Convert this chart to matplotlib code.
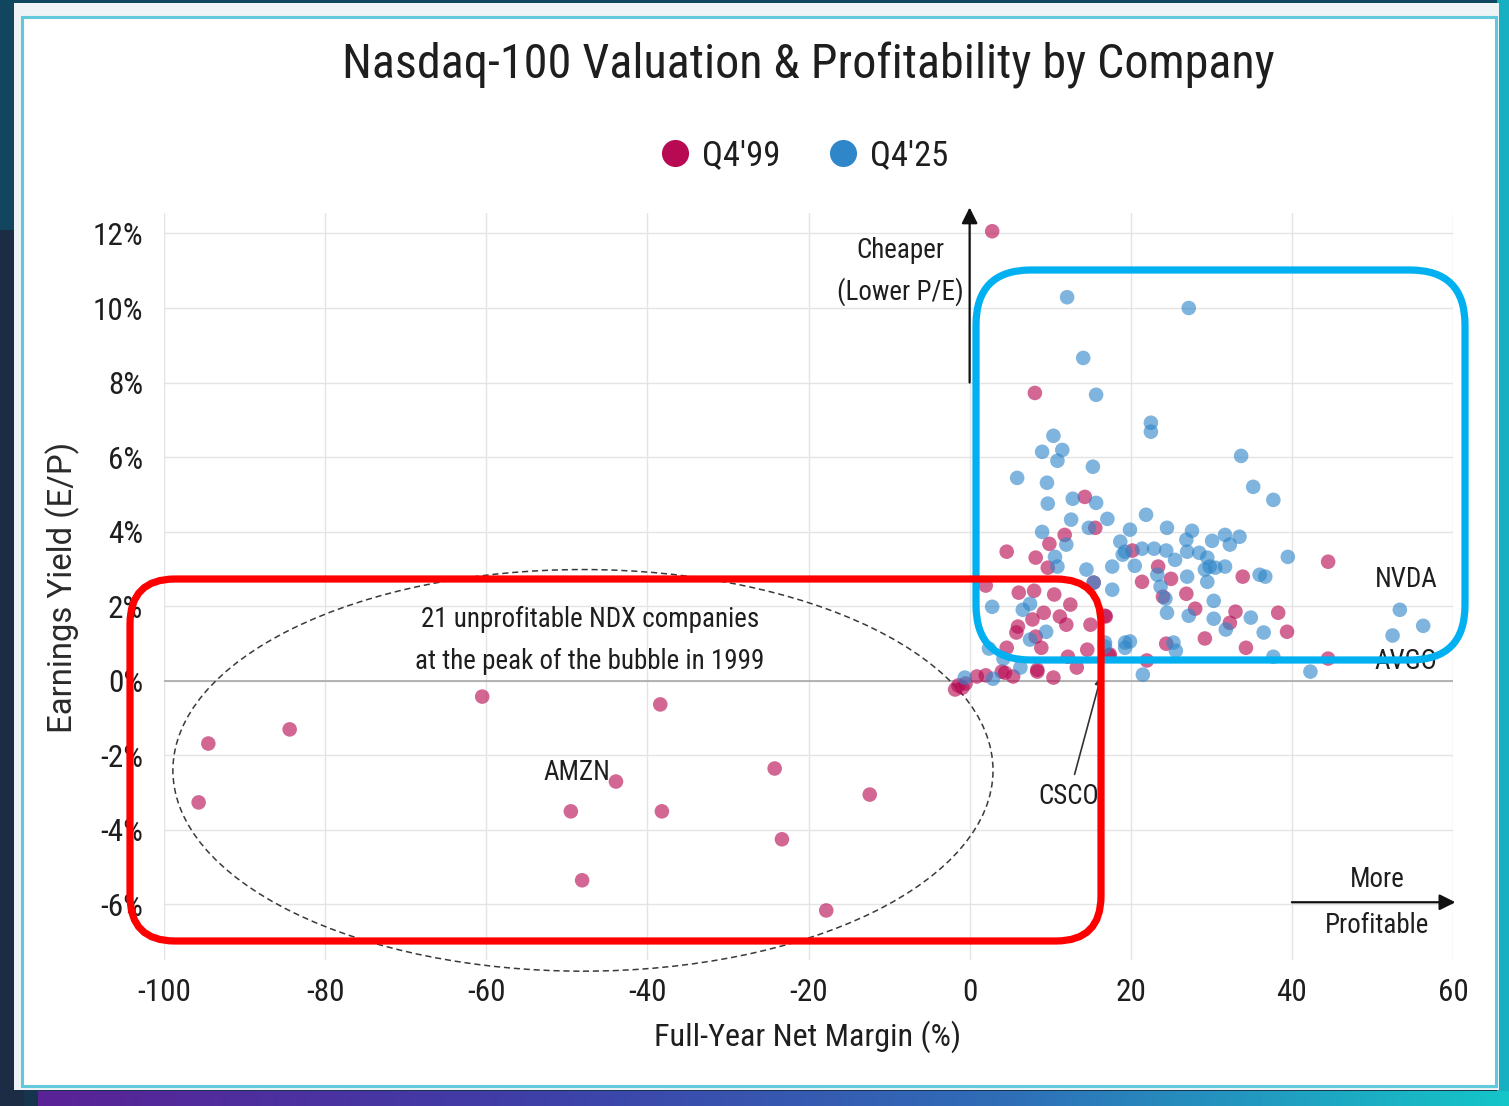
import matplotlib
matplotlib.use('Agg')
import matplotlib.pyplot as plt
from matplotlib import font_manager as fm
from matplotlib.patches import Rectangle, FancyBboxPatch, Ellipse
from matplotlib.lines import Line2D
from matplotlib.colors import LinearSegmentedColormap
import numpy as np

# ---------------- data ----------------
series_names = ["Q4'99", "Q4'25"]

q99_margin = [-95.7, -94.5, -84.4, -60.5, -38.4, -43.9, -49.5, -38.2, -48.1, -24.2,
              -23.3, -12.4, -17.8, -1.8, -0.9, -1.4, -0.5,
              0.9, 4.4, 5.4, 8.4, 10.4, 4.0, 2.0,
              2.8, 8.1, 14.3, 15.6, 11.8, 9.9, 4.6, 8.2, 9.7, 20.2,
              2.0, 6.1, 8.0, 10.5, 12.5, 6.0, 5.8, 7.8, 9.2, 11.2, 12.0, 15.0, 16.9,
              8.2, 8.9, 4.6, 14.6, 12.2, 13.3, 8.4, 17.4,
              23.4, 21.4, 25.0, 26.9, 24.0, 28.0, 33.0, 32.3, 33.9, 38.3, 39.4, 29.2,
              34.3, 24.4, 22.0, 16.8, 17.3, 44.5, 44.5, 15.4]
q99_yield = [-3.27, -1.69, -1.31, -0.43, -0.64, -2.71, -3.51, -3.51, -5.36, -2.36,
             -4.26, -3.06, -6.17, -0.24, -0.19, -0.13, -0.08,
             0.11, 0.21, 0.11, 0.24, 0.08, 0.24, 0.14,
             12.06, 7.72, 4.93, 4.10, 3.91, 3.67, 3.46, 3.30, 3.03, 3.49,
             2.55, 2.36, 2.41, 2.31, 2.04, 1.45, 1.29, 1.64, 1.82, 1.72, 1.50, 1.50, 1.72,
             1.18, 0.88, 0.88, 0.83, 0.64, 0.35, 0.29, 0.70,
             3.06, 2.65, 2.73, 2.33, 2.25, 1.93, 1.85, 1.55, 2.79, 1.82, 1.31, 1.13,
             0.88, 0.99, 0.54, 1.74, 0.67, 3.19, 0.59, 2.63]

q25_margin = [12.1, 27.2, 14.1, 15.7, 22.5, 22.5, 10.4, 9.0, 11.5, 10.9, 33.7, 15.3,
              5.9, 9.6, 9.7, 12.8, 15.7, 12.6, 17.1, 9.0, 14.8, 12.0, 10.6, 10.9,
              14.5, 15.4, 17.7, 17.7, 18.7, 19.9, 19.3, 20.5,
              2.8, 6.6, 7.5, 9.5, 7.5, 2.4, 4.2, 6.3, 2.9, -0.6, 19.3, 19.9, 16.8,
              35.2, 37.7, 21.9, 24.5, 27.6, 26.9, 30.1, 31.7, 33.5, 32.3,
              19.0, 21.4, 22.9, 24.4, 25.5, 27.0, 28.5, 29.5, 29.8, 29.2, 30.5, 31.7,
              29.5, 27.0, 23.3, 23.7, 24.3, 24.5, 30.3, 27.2, 30.3, 31.8, 34.9, 36.5,
              36.0, 36.7, 39.5, 19.3, 25.3, 25.6, 21.5, 37.7, 16.8,
              53.4, 56.3, 52.5, 42.3]
q25_yield = [10.29, 10.00, 8.66, 7.67, 6.92, 6.68, 6.57, 6.14, 6.19, 5.90, 6.03, 5.74,
             5.44, 5.31, 4.75, 4.88, 4.77, 4.32, 4.34, 3.99, 4.10, 3.65, 3.32, 3.06,
             2.98, 2.63, 3.06, 2.44, 3.73, 4.05, 3.46, 3.08,
             1.98, 1.90, 2.06, 1.31, 1.10, 0.86, 0.59, 0.35, 0.05, 0.08, 1.02, 1.05, 0.91,
             5.20, 4.85, 4.45, 4.10, 4.02, 3.78, 3.75, 3.91, 3.86, 3.65,
             3.38, 3.54, 3.54, 3.49, 3.24, 3.46, 3.43, 3.30, 3.06, 2.98, 3.03, 3.06,
             2.65, 2.79, 2.84, 2.52, 2.20, 1.82, 2.14, 1.74, 1.66, 1.37, 1.69, 1.29,
             2.84, 2.79, 3.32, 0.88, 1.02, 0.80, 0.16, 0.64, 1.02,
             1.90, 1.47, 1.21, 0.24]

x_ticks = [-100, -80, -60, -40, -20, 0, 20, 40, 60]
x_tick_labels = ['-100', '-80', '-60', '-40', '-20', '0', '20', '40', '60']
y_ticks = [-6, -4, -2, 0, 2, 4, 6, 8, 10, 12]
y_tick_labels = ['-6%', '-4%', '-2%', '0%', '2%', '4%', '6%', '8%', '10%', '12%']

# ---------------- font choice (narrow face if available) ----------------
def pick_font():
    prefs = ['Liberation Sans Narrow', 'Roboto Condensed', 'Noto Sans Condensed',
             'Open Sans Condensed', 'DejaVu Sans Condensed']
    best = None
    for pname in prefs:
        for f in fm.fontManager.ttflist:
            if f.name == pname and f.style == 'normal':
                w = f.weight if isinstance(f.weight, int) else {'normal': 400, 'regular': 400}.get(str(f.weight), 700)
                if w == 400:
                    return fm.FontProperties(fname=f.fname)
                if best is None:
                    best = f
        if best is not None:
            return fm.FontProperties(fname=best.fname)
    for f in fm.fontManager.ttflist:
        st = f.stretch
        if f.name in ('Noto Sans', 'DejaVu Sans', 'Open Sans', 'Roboto') and f.style == 'normal' \
                and st in ('condensed', 'semi-condensed', 'extra-condensed') \
                and f.weight in (400, 'normal', 'regular'):
            return fm.FontProperties(fname=f.fname)
    return fm.FontProperties(family='Roboto')

FP = pick_font()
REG = fm.FontProperties(family='Roboto')
plt.rcParams['axes.unicode_minus'] = False

C99 = '#b70a53'
C25 = '#2f86c9'
TXT = '#1e1e1e'

W, H = 1509, 1106
fig = plt.figure(figsize=(W / 100, H / 100), dpi=100)
fig.patch.set_facecolor('#17344d')
renderer = fig.canvas.get_renderer()


def fx(px):
    return px / W


def fy(py):
    return 1 - py / H


def size_for(s, target_w, fp=FP, base=20.0):
    t = fig.text(0, 0, s, fontproperties=fp, fontsize=base)
    w = t.get_window_extent(renderer).width
    t.remove()
    return base * target_w / w


def px_rect(x0, y0, x1, y1, **kw):
    r = Rectangle((x0 / W, 1 - y1 / H), (x1 - x0) / W, (y1 - y0) / H,
                  transform=fig.transFigure, **kw)
    fig.add_artist(r)
    return r


# background frame pieces
px_rect(0, 0, 24, 230, fc='#12465f', ec='none', zorder=-10)
px_rect(0, 230, 24, 1106, fc='#1b2c44', ec='none', zorder=-10)
px_rect(0, 0, 1509, 4, fc='#0f4660', ec='none', zorder=-10)
px_rect(1497, 0, 1509, 1106, fc='#17b0c2', ec='none', zorder=-10)
px_rect(14, 3, 1499, 1090, fc='#eef3f6', ec='none', zorder=-9)
px_rect(22, 17, 1496, 1086, fc='white', ec='#62c8dc', lw=2.2, zorder=-8)

# bottom gradient strip
gax = fig.add_axes([fx(38), fy(1106), fx(1509 - 38), (1106 - 1091) / H])
grad = np.linspace(0, 1, 256)[None, :]
gcmap = LinearSegmentedColormap.from_list('g', ['#5a2296', '#3f3fa8', '#2f6fb8', '#14c6c8'])
gax.imshow(grad, aspect='auto', cmap=gcmap)
gax.axis('off')

# font sizes fitted to the reference text widths
tick_fs = size_for('-100', 54)
ann_fs = size_for('21 unprofitable NDX companies', 337)
title_fs = size_for('Nasdaq-100 Valuation & Profitability by Company', 929)
xlab_fs = size_for('Full-Year Net Margin (%)', 307)
ylab_fs = size_for('Earnings Yield (E/P)', 290, fp=REG)
leg_fs = size_for("Q4'99", 78)

# main axes
ax = fig.add_axes([fx(164), fy(960), fx(1453 - 164), (960 - 213) / H])
ax.set_xlim(-100, 60)
ax.set_ylim(-7.5, 12.55)
ax.set_facecolor('none')
for s in ax.spines.values():
    s.set_visible(False)
ax.set_xticks(x_ticks)
ax.set_xticklabels(x_tick_labels, fontproperties=FP, fontsize=tick_fs, color=TXT)
ax.set_yticks(y_ticks)
ax.set_yticklabels(y_tick_labels, fontproperties=FP, fontsize=tick_fs, color=TXT)
ax.tick_params(length=0)
ax.tick_params(axis='y', pad=15)
ax.tick_params(axis='x', pad=13)
ax.grid(True, color='#e4e4e4', lw=1.0)
ax.set_axisbelow(True)
ax.axhline(0, color='#a8a8a8', lw=1.2, zorder=1)

ax.scatter(q99_margin, q99_yield, s=110, color=C99, alpha=0.62, edgecolors='none', zorder=3)
ax.scatter(q25_margin, q25_yield, s=110, color=C25, alpha=0.62, edgecolors='none', zorder=3)

fig.text(fx(808), fy(1037), 'Full-Year Net Margin (%)', ha='center', va='center',
         fontproperties=FP, fontsize=xlab_fs, color=TXT)
fig.text(fx(63), fy(587), 'Earnings Yield (E/P)', ha='center', va='center', rotation=90,
         fontproperties=REG, fontsize=ylab_fs, color='#2a2a2a')


def atext(x, y, s, **kw):
    kw.setdefault('ha', 'center')
    kw.setdefault('va', 'center')
    return ax.text(x, y, s, fontproperties=FP, fontsize=ann_fs, color=TXT, **kw)


# ellipse around unprofitable companies
ax.add_patch(Ellipse((-48.0, -2.41), 101.8, 10.78, fill=False, ls=(0, (4, 2.5)),
                     ec='#3a3a3a', lw=1.1, clip_on=False, zorder=2))
atext(-47.1, 1.64, '21 unprofitable NDX companies')
atext(-47.1, 0.51, 'at the peak of the bubble in 1999')
atext(-44.6, -2.47, 'AMZN', ha='right')
atext(54.2, 2.71, 'NVDA')
atext(54.2, 0.51, 'AVGO')
ax.annotate('CSCO', xy=(16.3, 0.1), xytext=(12.3, -3.1), ha='center', va='center',
            fontproperties=FP, fontsize=ann_fs, color=TXT,
            arrowprops=dict(arrowstyle='-|>', color='#333', lw=1.2, mutation_scale=12,
                            shrinkA=4, shrinkB=0))

# direction arrows
ax.annotate('', xy=(0, 12.7), xytext=(0, 8.0), annotation_clip=False,
            arrowprops=dict(arrowstyle='-|>', color='#111', lw=1.6, mutation_scale=24,
                            shrinkA=0, shrinkB=0))
atext(-8.6, 11.55, 'Cheaper')
atext(-8.6, 10.43, '(Lower P/E)')
ax.annotate('', xy=(60.3, -5.95), xytext=(40, -5.95), annotation_clip=False,
            arrowprops=dict(arrowstyle='-|>', color='#111', lw=1.6, mutation_scale=24,
                            shrinkA=0, shrinkB=0))
atext(50.6, -5.34, 'More')
atext(50.6, -6.57, 'Profitable')

# title and legend
fig.text(fx(808), fy(65), 'Nasdaq-100 Valuation & Profitability by Company',
         ha='center', va='center', fontproperties=FP, fontsize=title_fs, color=TXT)
em = leg_fs * 100 / 72.0
handles = [Line2D([], [], ls='none', marker='o', ms=19.5, mfc=C99, mec='none'),
           Line2D([], [], ls='none', marker='o', ms=19.5, mfc=C25, mec='none')]
leg_prop = FP.copy()
leg_prop.set_size(leg_fs)
fig.legend(handles, series_names, loc='center', bbox_to_anchor=(fx(803), fy(156)),
           ncol=2, frameon=False, prop=leg_prop, handlelength=1.0,
           handletextpad=(27 - 0.5 * em) / em, columnspacing=(62 - 0.5 * em) / em,
           borderpad=0, borderaxespad=0, labelcolor=TXT)

# highlight boxes (overlay, pixel space)
def px_box(x0, y0, x1, y1, color, r, z):
    b = FancyBboxPatch((x0, H - y1), x1 - x0, y1 - y0,
                       boxstyle=f'round,pad=0,rounding_size={r}',
                       transform=None, fill=False, ec=color, lw=5.2, zorder=z)
    fig.add_artist(b)

px_box(976, 270, 1465, 660, '#00b0f0', 55, 20)
px_box(130, 579, 1101, 941, '#ff0000', 45, 21)

fig.savefig('out.png', dpi=100, facecolor=fig.get_facecolor())
